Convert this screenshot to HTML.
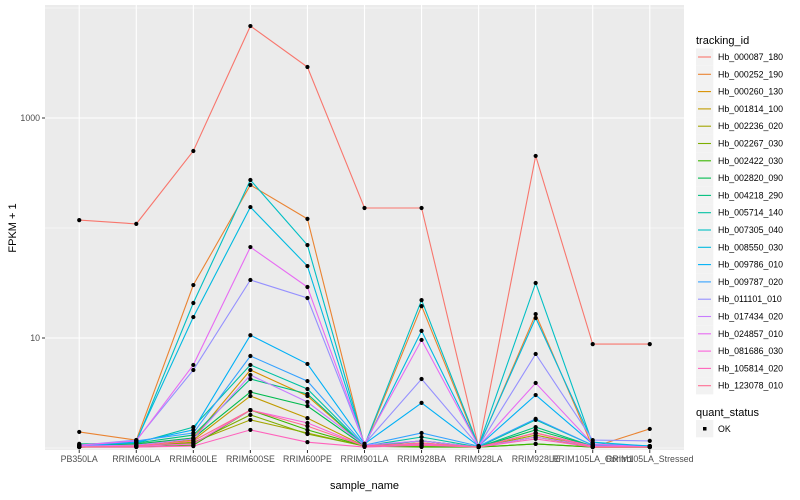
<!DOCTYPE html>
<html><head><meta charset="utf-8"><style>
html,body{margin:0;padding:0;background:#fff;}
svg{display:block;font-family:"Liberation Sans",sans-serif;}
</style></head><body>
<svg id="chart" width="800" height="500" viewBox="0 0 800 500"></svg>
<script>
const categories = ["PB350LA","RRIM600LA","RRIM600LE","RRIM600SE","RRIM600PE","RRIM901LA","RRIM928BA","RRIM928LA","RRIM928LE","RRIM105LA_Control","RRIM105LA_Stressed"];
const seriesNames = ["Hb_000087_180","Hb_000252_190","Hb_000260_130","Hb_001814_100","Hb_002236_020","Hb_002267_030","Hb_002422_030","Hb_002820_090","Hb_004218_290","Hb_005714_140","Hb_007305_040","Hb_008550_030","Hb_009786_010","Hb_009787_020","Hb_011101_010","Hb_017434_020","Hb_024857_010","Hb_081686_030","Hb_105814_020","Hb_123078_010"];
const seriesColors = ["#F8766D","#EA8331","#D89000","#C09B00","#A3A500","#7CAE00","#39B600","#00BB4E","#00BF7D","#00C1A3","#00BFC4","#00BAE0","#00B0F6","#35A2FF","#9590FF","#C77CFF","#E76BF3","#FA62DB","#FF62BC","#FF6C91"];
const values = [
 [118,109,501,6855,2911,152,152,1.02,452,8.8,8.8],
 [1.40,1.18,30.3,246,121,1.04,19.5,1.02,16.5,1.02,1.49],
 [1.04,1.06,1.23,5.12,2.97,1.04,1.11,1.02,1.37,1.04,1.02],
 [1.02,1.04,1.18,2.97,1.87,1.04,1.09,1.02,1.26,1.02,1.02],
 [1.02,1.04,1.13,1.80,1.37,1.04,1.06,1.02,1.31,1.02,1.02],
 [1.02,1.04,1.11,2.0,1.34,1.04,1.04,1.02,1.09,1.02,1.02],
 [1.02,1.02,1.06,2.21,1.46,1.04,1.02,1.02,1.09,1.02,1.02],
 [1.04,1.09,1.23,3.23,2.41,1.04,1.16,1.02,1.46,1.04,1.02],
 [1.09,1.11,1.31,4.24,3.10,1.04,1.16,1.02,1.55,1.04,1.02],
 [1.06,1.11,1.55,5.69,3.44,1.04,1.26,1.02,1.80,1.06,1.04],
 [1.04,1.13,20.8,273,70.0,1.06,22.1,1.04,31.6,1.09,1.04],
 [1.04,1.16,15.5,155,45.1,1.06,11.6,1.04,15.2,1.13,1.04],
 [1.04,1.13,1.46,10.6,5.81,1.09,2.57,1.04,3.03,1.09,1.04],
 [1.04,1.16,1.37,6.86,4.06,1.06,1.37,1.04,1.84,1.06,1.02],
 [1.06,1.18,5.12,33.7,23.1,1.09,4.24,1.04,7.16,1.18,1.16],
 [1.04,1.06,1.21,4.61,2.62,1.06,1.16,1.02,1.26,1.04,1.02],
 [1.06,1.16,5.69,67.1,29.1,1.09,9.6,1.04,3.90,1.09,1.02],
 [1.02,1.04,1.09,2.21,1.69,1.04,1.09,1.02,1.37,1.04,1.02],
 [1.02,1.02,1.04,1.46,1.13,1.02,1.06,1.02,1.21,1.02,1.02],
 [1.02,1.04,1.16,2.21,1.58,1.04,1.11,1.02,1.37,1.02,1.02]
];
const yTickValues = [10,1000];
const yTickLabels = ["10","1000"];
const yMinorValues = [1,100,10000];

const NS="http://www.w3.org/2000/svg";
const svg=document.getElementById('chart');
const P={l:45,r:684,t:5,b:450};
function xPos(i){return P.l + (P.r-P.l)*(0.6+i)/(categories.length-1+1.2);}
function yPos(v){return 338 - (Math.log10(v)-1)*110;}
function mk(tag,attrs,parent){const e=document.createElementNS(NS,tag);for(const k in attrs)e.setAttribute(k,attrs[k]);(parent||svg).appendChild(e);return e;}

const panel=mk('rect',{x:P.l,y:P.t,width:P.r-P.l,height:P.b-P.t,fill:'#EBEBEB'});


yMinorValues.forEach(v=>{const y=yPos(v);if(y>=P.t&&y<=P.b){const g=mk('line',{x1:P.l,x2:P.r,y1:y,y2:y,stroke:'#fff','stroke-width':0.55});

}});
yTickValues.forEach((v,i)=>{const y=yPos(v);const g=mk('line',{x1:P.l,x2:P.r,y1:y,y2:y,stroke:'#fff','stroke-width':1.1});


const tk=mk('line',{x1:P.l-3,x2:P.l,y1:y,y2:y,stroke:'#333','stroke-width':1});


const t=mk('text',{x:P.l-5,y:y+3,'text-anchor':'end','font-size':'8.8px',fill:'#4D4D4D'});t.textContent=yTickLabels[i];

});
categories.forEach((c,i)=>{const x=xPos(i);const g=mk('line',{x1:x,x2:x,y1:P.t,y2:P.b,stroke:'#fff','stroke-width':1.1});


const tk=mk('line',{x1:x,x2:x,y1:P.b,y2:P.b+3,stroke:'#333','stroke-width':1});


const t=mk('text',{x:x,y:P.b+12,'text-anchor':'middle','font-size':'8.8px',fill:'#4D4D4D'});t.textContent=c;

});

values.forEach((row,s)=>{const pts=row.map((v,i)=>xPos(i).toFixed(1)+','+yPos(v).toFixed(1)).join(' ');
const pl=mk('polyline',{points:pts,fill:'none',stroke:seriesColors[s],'stroke-width':1.1});

});
values.forEach((row,s)=>{row.forEach((v,i)=>{const p=mk('circle',{cx:xPos(i),cy:yPos(v),r:2.1,fill:'#000'});

});});

const xt=mk('text',{x:(P.l+P.r)/2,y:489,'text-anchor':'middle','font-size':'11px',fill:'#000'});xt.textContent='sample_name';


const yt=mk('text',{x:0,y:0,'text-anchor':'middle','font-size':'11px',fill:'#000',transform:'translate(16,228) rotate(-90)'});yt.textContent='FPKM + 1';



const lt=mk('text',{x:696,y:44,'font-size':'11px',fill:'#000'});lt.textContent='tracking_id';


seriesNames.forEach((n,s)=>{const cy=57+s*17.3;
const g=mk('g',{});


mk('rect',{x:696,y:cy-8.6,width:17.3,height:17.3,fill:'#F2F2F2'},g);
mk('line',{x1:698,x2:711,y1:cy,y2:cy,stroke:seriesColors[s],'stroke-width':1.1},g);
const t=mk('text',{x:718,y:cy+3,'font-size':'8.8px',fill:'#000'},g);t.textContent=n;});
const qt=mk('text',{x:696,y:416,'font-size':'11px',fill:'#000'});qt.textContent='quant_status';


const qg=mk('g',{});


mk('rect',{x:696,y:420,width:17.3,height:17.3,fill:'#F2F2F2'},qg);
mk('rect',{x:703,y:427,width:3.5,height:3.5,fill:'#000'},qg);
const qx=mk('text',{x:718,y:432,'font-size':'8.8px',fill:'#000'},qg);qx.textContent='OK';
</script>
</body></html>
